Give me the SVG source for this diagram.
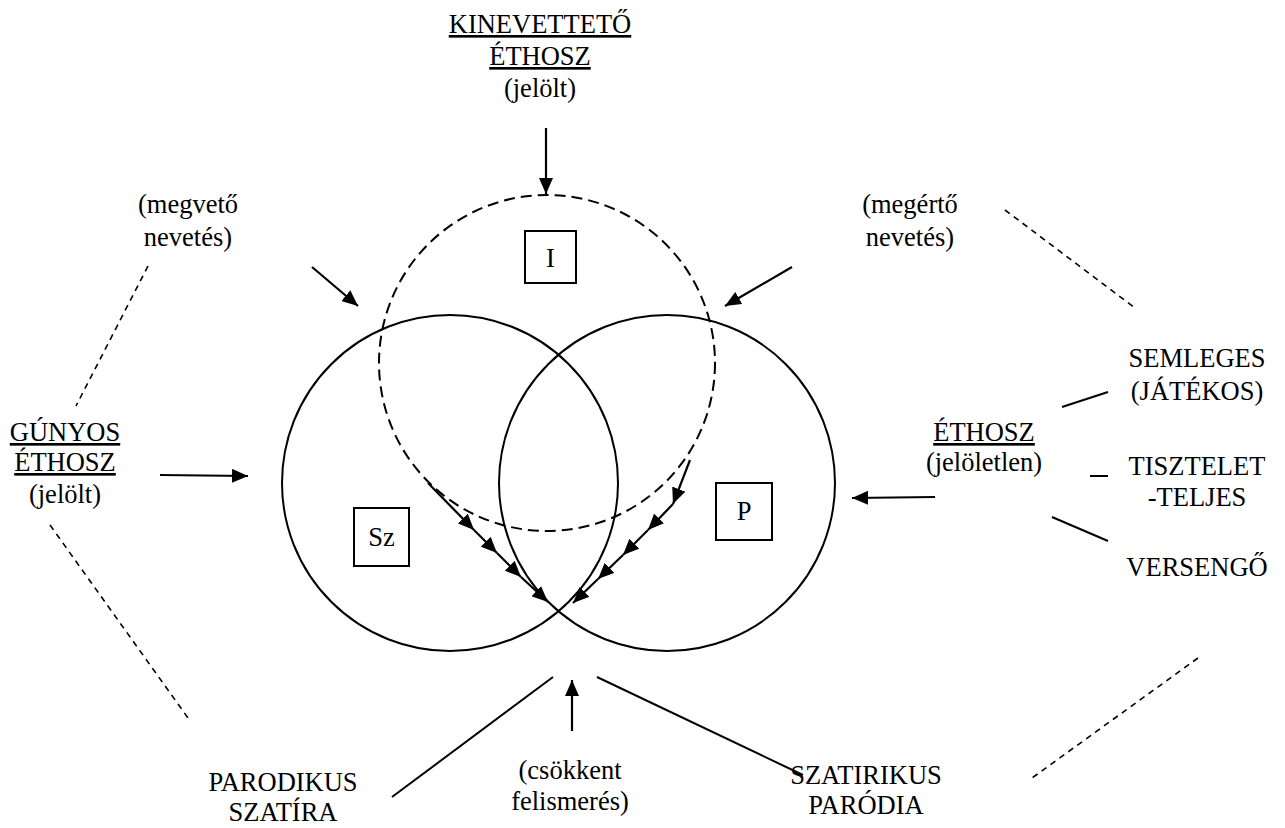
<svg xmlns="http://www.w3.org/2000/svg" width="1285" height="828" viewBox="0 0 1285 828" font-family="'Liberation Serif', 'Times New Roman', serif">
<defs>
<marker id="ah" markerUnits="userSpaceOnUse" markerWidth="17" markerHeight="14" refX="16" refY="7" orient="auto">
<path d="M0,0 L16,7 L0,14 z" fill="#000"/>
</marker>
<style>
text{font-family:'Liberation Serif','Times New Roman',serif;font-size:26.5px;fill:#000;text-anchor:middle}
.u{text-decoration:underline}
.c{fill:none;stroke:#000;stroke-width:2}
.cd{fill:none;stroke:#000;stroke-width:2;stroke-dasharray:11 6}
.ln{stroke:#000;stroke-width:2;fill:none}
.ar{stroke:#000;stroke-width:2.2;fill:none;marker-end:url(#ah)}
.ds{stroke:#000;stroke-width:1.6;fill:none;stroke-dasharray:6 5}
.bx{fill:#fff;stroke:#000;stroke-width:2}
</style>
</defs>
<rect width="1285" height="828" fill="#fff"/>

<g id="circle-sz"><circle class="c" cx="450" cy="483" r="168"/></g>
<g id="circle-p"><circle class="c" cx="667" cy="483" r="168"/></g>
<g id="circle-i"><circle class="cd" cx="547" cy="363" r="168"/></g>

<g id="box-i"><rect class="bx" x="525" y="231" width="51" height="52"/><text x="550.5" y="267">I</text></g>
<g id="box-sz"><rect class="bx" x="354" y="508" width="55" height="58"/><text x="381.5" y="546">Sz</text></g>
<g id="box-p"><rect class="bx" x="716" y="483" width="56" height="57"/><text x="744" y="520">P</text></g>

<g id="kinevetteto">
<text class="u" x="540" y="33">KINEVETTETŐ</text>
<text class="u" x="540" y="65">ÉTHOSZ</text>
<text x="540" y="97">(jelölt)</text>
</g>
<g id="megveto">
<text x="188" y="213">(megvető</text>
<text x="188" y="246">nevetés)</text>
</g>
<g id="megerto">
<text x="910" y="213">(megértő</text>
<text x="910" y="246">nevetés)</text>
</g>
<g id="gunyos">
<text class="u" x="65" y="441">GÚNYOS</text>
<text class="u" x="65" y="471">ÉTHOSZ</text>
<text x="65" y="503">(jelölt)</text>
</g>
<g id="ethosz">
<text class="u" x="984" y="441">ÉTHOSZ</text>
<text x="984" y="471">(jelöletlen)</text>
</g>
<g id="semleges">
<text x="1197" y="367">SEMLEGES</text>
<text x="1197" y="400">(JÁTÉKOS)</text>
</g>
<g id="tiszteletteljes">
<text x="1197" y="475">TISZTELET</text>
<text x="1197" y="506">-TELJES</text>
</g>
<g id="versengo"><text x="1197" y="576">VERSENGŐ</text></g>
<g id="parodikus">
<text x="283" y="791">PARODIKUS</text>
<text x="283" y="821">SZATÍRA</text>
</g>
<g id="csokkent">
<text x="570" y="779">(csökkent</text>
<text x="570" y="810">felismerés)</text>
</g>
<g id="szatirikus">
<text x="866" y="784">SZATIRIKUS</text>
<text x="866" y="814">PARÓDIA</text>
</g>

<g id="connectors">
<line class="ar" x1="546" y1="128" x2="546" y2="194"/>
<line class="ar" x1="312" y1="267" x2="358" y2="306"/>
<line class="ar" x1="792" y1="267" x2="725" y2="306"/>
<line class="ar" x1="160" y1="475" x2="248" y2="476"/>
<line class="ar" x1="935" y1="497" x2="852" y2="498"/>
<line class="ar" x1="572" y1="731" x2="572" y2="680"/>

<line class="ar" x1="428" y1="483" x2="474" y2="530"/>
<line class="ar" x1="474" y1="530" x2="497" y2="553"/>
<line class="ar" x1="497" y1="553" x2="521" y2="577"/>
<line class="ar" x1="521" y1="577" x2="548" y2="602"/>

<line class="ar" x1="690" y1="460" x2="673" y2="504"/>
<line class="ar" x1="673" y1="504" x2="648" y2="530"/>
<line class="ar" x1="648" y1="530" x2="623" y2="555"/>
<line class="ar" x1="623" y1="555" x2="598" y2="579"/>
<line class="ar" x1="598" y1="579" x2="573" y2="603"/>

<line class="ln" x1="1062" y1="407" x2="1108" y2="392"/>
<line class="ln" x1="1090" y1="476" x2="1108" y2="476"/>
<line class="ln" x1="1052" y1="517" x2="1108" y2="541"/>
<line class="ln" x1="392" y1="797" x2="553" y2="677"/>
<line class="ln" x1="597" y1="677" x2="803" y2="775"/>

<line class="ds" x1="148" y1="266" x2="76" y2="406"/>
<line class="ds" x1="50" y1="525" x2="188" y2="718"/>
<line class="ds" x1="1005" y1="210" x2="1135" y2="308"/>
<line class="ds" x1="1198" y1="658" x2="1032" y2="778"/>
</g>
</svg>
